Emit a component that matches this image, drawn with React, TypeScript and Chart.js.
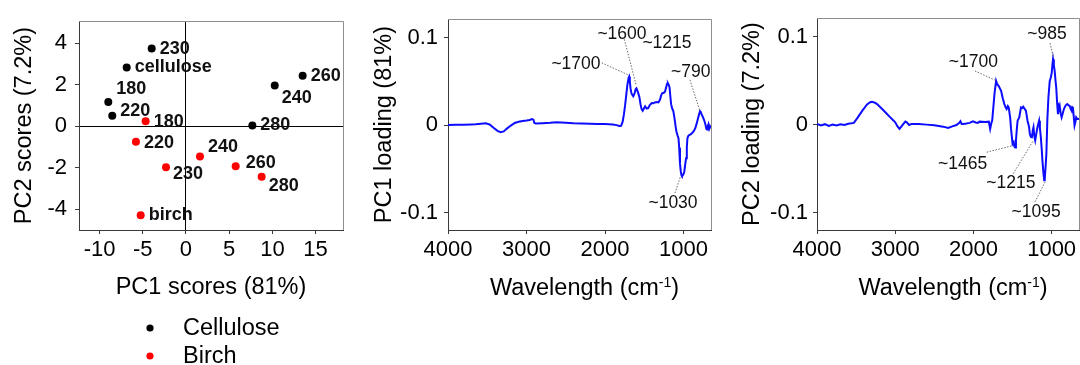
import React, { useEffect, useRef } from 'react';
import { Chart, registerables } from 'chart.js';

Chart.register(...registerables);

const FONT = "'Liberation Sans', Arial, Helvetica, sans-serif";
Chart.defaults.font.family = FONT;

// ---------------- Score plot data ----------------
const seriesNames = ['Cellulose', 'Birch'];
const celluloseLabels = ['cellulose', '180', '220', '230', '240', '260', '280'];
const celluloseX = [-6.86, -8.99, -8.53, -3.97, 10.27, 13.5, 7.68];
const celluloseY = [2.82, 1.16, 0.5, 3.73, 1.95, 2.42, 0.03];
const birchLabels = ['birch', '180', '220', '230', '240', '260', '280'];
const birchX = [-5.24, -4.67, -5.79, -2.31, 1.62, 5.75, 8.76];
const birchY = [-4.29, 0.24, -0.75, -1.98, -1.46, -1.93, -2.44];

const scoreXTicks = [-10, -5, 0, 5, 10, 15];
const scoreYTicks = [-4, -2, 0, 2, 4];

// ---------------- Loading data ----------------
const pc1Wavenumber = [
  4000, 3900, 3800, 3700, 3650, 3580, 3520, 3470, 3420, 3370, 3330, 3290, 3250, 3200, 3150, 3100, 3050, 3000,
  2960, 2930, 2912, 2900, 2880, 2800, 2700, 2617, 2500, 2400, 2300, 2192, 2100, 2000, 1900, 1851, 1820, 1795,
  1775, 1760, 1745, 1730, 1715, 1700, 1693, 1684, 1675, 1665, 1655, 1640, 1625, 1610, 1600, 1590, 1575, 1562,
  1548, 1535, 1520, 1505, 1489, 1470, 1450, 1430, 1404, 1385, 1365, 1340, 1320, 1300, 1285, 1270, 1250, 1235,
  1222, 1210, 1200, 1188, 1178, 1168, 1158, 1145, 1130, 1115, 1100, 1090, 1075, 1064, 1055, 1045, 1035, 1027,
  1020, 1010, 1000, 990, 980, 968, 958, 950, 940, 928, 910, 890, 870, 850, 832, 815, 800, 790, 780, 765, 750,
  735, 720, 708, 700, 690, 682, 672, 662, 650,
];
const pc1Loading = [
  0, 0.0003, 0.0005, 0.0008, 0.001, 0.0015, 0.002, 0.0008, -0.003, -0.0065, -0.008, -0.0072, -0.004, -0.0005,
  0.0025, 0.0038, 0.0048, 0.0052, 0.0058, 0.0068, 0.0062, 0.0025, 0.0018, 0.0022, 0.0026, 0.0033, 0.0028, 0.0022,
  0.0018, 0.0015, 0.0013, 0.0012, 0.0006, 0.0, -0.001, -0.0008, 0.004, 0.012, 0.022, 0.034, 0.046, 0.054, 0.0555,
  0.05, 0.042, 0.037, 0.035, 0.033, 0.036, 0.041, 0.042, 0.04, 0.036, 0.032, 0.024, 0.0185, 0.0165, 0.019, 0.0215,
  0.019, 0.0195, 0.023, 0.0253, 0.025, 0.026, 0.0265, 0.026, 0.029, 0.034, 0.0366, 0.037, 0.0385, 0.043, 0.047,
  0.048, 0.046, 0.043, 0.033, 0.024, 0.019, 0.016, 0.008, -0.002, -0.0075, -0.012, -0.015, -0.026, -0.044, -0.053,
  -0.057, -0.058, -0.0575, -0.056, -0.053, -0.046, -0.038, -0.025, -0.015, -0.0125, -0.0113, -0.0105, -0.009,
  -0.007, -0.0035, 0.002, 0.008, 0.013, 0.016, 0.0145, 0.0115, 0.0085, 0.005, 0.0005, -0.0045, -0.005, -0.001,
  0.001, -0.004, -0.0015, -0.0035,
];

const pc2Wavenumber = [
  4000, 3950, 3900, 3850, 3800, 3750, 3700, 3650, 3600, 3529, 3480, 3420, 3360, 3320, 3296, 3260, 3232, 3180,
  3120, 3063, 3020, 3000, 2970, 2945, 2920, 2895, 2870, 2852, 2822, 2790, 2700, 2600, 2500, 2387, 2324, 2270,
  2217, 2180, 2166, 2150, 2133, 2090, 2048, 2006, 1970, 1943, 1921, 1850, 1803, 1786, 1770, 1760, 1745, 1731,
  1710, 1695, 1676, 1660, 1646, 1625, 1604, 1590, 1575, 1560, 1549, 1530, 1519, 1499, 1485, 1477, 1465, 1456,
  1445, 1435, 1414, 1392, 1375, 1363, 1345, 1329, 1308, 1290, 1278, 1265, 1252, 1240, 1232, 1220, 1210, 1195,
  1181, 1160, 1150, 1138, 1125, 1118, 1105, 1095, 1088, 1075, 1067, 1055, 1041, 1024, 1010, 999, 990, 982, 972,
  961, 950, 941, 930, 919, 908, 897, 885, 872, 860, 843, 820, 801, 785, 770, 757, 745, 737, 728, 718, 707, 696,
  686, 670, 650,
];
const pc2Loading = [
  0.0008, -0.001, 0.0005, -0.0015, 0.0, -0.001, 0.0005, -0.0005, 0.001, 0.002, 0.008, 0.016, 0.023, 0.0255,
  0.026, 0.025, 0.0234, 0.019, 0.0135, 0.0083, 0.0045, 0.0026, -0.002, -0.0049, -0.002, 0.0008, 0.0035, 0.0026,
  -0.0004, 0.0008, 0.0008, 0.0, -0.0008, -0.0023, -0.0038, -0.002, -0.0004, 0.002, 0.0038, 0.0008, 0.0008, 0.0012,
  0.002, 0.0038, 0.0025, 0.002, 0.0034, 0.003, 0.0034, -0.0049, 0.002, 0.0045, 0.02, 0.0348, 0.0498, 0.046, 0.044,
  0.041, 0.0385, 0.03, 0.0234, 0.02, 0.0178, 0.021, 0.0196, 0.008, -0.0049, -0.0219, -0.02, -0.0249, -0.026,
  -0.018, -0.005, 0.0045, 0.0083, 0.0196, 0.019, 0.0204, 0.018, 0.0159, 0.0045, -0.002, -0.0106, -0.014, -0.0144,
  -0.006, -0.003, -0.014, -0.018, -0.01, -0.003, 0.0045, -0.004, -0.0144, -0.03, -0.0408, -0.055, -0.0634, -0.062,
  -0.045, -0.033, 0.005, 0.031, 0.0498, 0.054, 0.059, 0.068, 0.0744, 0.068, 0.061, 0.05, 0.042, 0.025, 0.012,
  0.018, 0.0215, 0.013, 0.0083, 0.012, 0.0178, 0.022, 0.0234, 0.022, 0.0215, 0.018, 0.0159, 0.02, 0.0196, 0.01,
  -0.001, 0.003, 0.0083, 0.0064, 0.0064,
];

const wavenumberTicks = [4000, 3000, 2000, 1000];
const loadingTicks = [-0.1, 0, 0.1];

// Peak annotations, in data coordinates (wavenumber, loading)
type Annot = { text: string; at: [number, number]; from?: [number, number]; to?: [number, number] };
const pc1Annotations: Annot[] = [
  { text: '~1700', at: [2370, 0.0694], from: [2042, 0.0713], to: [1703, 0.0574] },
  { text: '~1600', at: [1784, 0.1045], from: [1754, 0.0982], to: [1605, 0.0461] },
  { text: '~1215', at: [1211, 0.0932] },
  { text: '~790', at: [909, 0.0604], from: [918, 0.0518], to: [790, 0.0159] },
  { text: '~1030', at: [1134, -0.0898], from: [1109, -0.0778], to: [1036, -0.0578] },
];
const pc2Annotations: Annot[] = [
  { text: '~985', at: [1059, 0.1027], from: [1020, 0.0929], to: [976, 0.0759] },
  { text: '~1700', at: [2001, 0.0713], from: [1980, 0.0611], to: [1702, 0.0498] },
  { text: '~1465', at: [2139, -0.0445], from: [1830, -0.0314], to: [1490, -0.0238] },
  { text: '~1215', at: [1522, -0.0665], from: [1490, -0.0558], to: [1234, -0.0181] },
  { text: '~1095', at: [1199, -0.0993], from: [1212, -0.088], to: [1084, -0.0653] },
];

// ---------------- Styles ----------------
const AXIS_DARK = '#3a3a3a';
const BOX_GRAY = '#8e8e8e';
const CURVE_BLUE = 'rgb(12,12,255)';
const TICK_FONT = { size: 22, lineHeight: 1.2 };
const TITLE_FONT = { size: 23.5, lineHeight: 1 };
// pixel offsets of the score-plot point labels (label left/middle relative to point)
const celluloseLabelOffsets = [[8, 0], [8, -13], [8, -5], [8, 0], [7, 12], [8, 0], [8, 0]];
const birchLabelOffsets = [[8, 0], [8, 1], [8, 1], [7, 7], [8, -9], [10, -3], [7, 9]];

const boxPlugin = {
  id: 'boxTopRight',
  beforeDatasetsDraw(chart: any) {
    const { ctx, chartArea: a } = chart;
    ctx.save();
    ctx.strokeStyle = BOX_GRAY;
    ctx.lineWidth = 1;
    ctx.beginPath();
    ctx.moveTo(Math.round(a.left), Math.round(a.top) + 0.5);
    ctx.lineTo(Math.round(a.right) + 0.5, Math.round(a.top) + 0.5);
    ctx.lineTo(Math.round(a.right) + 0.5, Math.round(a.bottom));
    ctx.stroke();
    ctx.restore();
  },
};

const fixedTicks = (values: number[]) => (scale: any) => {
  scale.ticks = values.map((v) => ({ value: v }));
};

// ---------------- Score chart ----------------
function scoreConfig(): any {
  const labelSets = [celluloseLabels, birchLabels];
  const offsetSets = [celluloseLabelOffsets, birchLabelOffsets];
  const colors = ['#000000', '#ff0000'];

  const pointLabelPlugin = {
    id: 'pointLabels',
    afterDatasetsDraw(chart: any) {
      const { ctx } = chart;
      ctx.save();
      ctx.font = `bold 18px ${FONT}`;
      ctx.fillStyle = '#111';
      ctx.textAlign = 'left';
      ctx.textBaseline = 'middle';
      chart.data.datasets.forEach((_: any, di: number) => {
        const meta = chart.getDatasetMeta(di);
        meta.data.forEach((pt: any, i: number) => {
          const [dx, dy] = offsetSets[di][i];
          ctx.fillText(labelSets[di][i], pt.x + dx, pt.y + dy);
        });
      });
      ctx.restore();
    },
  };

  const legendPlugin = {
    id: 'verticalLegend',
    afterDraw(chart: any) {
      const { ctx, chartArea: a } = chart;
      ctx.save();
      ctx.font = `23.5px ${FONT}`;
      ctx.textAlign = 'left';
      ctx.textBaseline = 'middle';
      chart.data.datasets.forEach((ds: any, i: number) => {
        const y = a.bottom + 98 + i * 28;
        ctx.fillStyle = ds.backgroundColor;
        ctx.beginPath();
        ctx.arc(a.left + 71, y, 3.6, 0, Math.PI * 2);
        ctx.fill();
        ctx.fillStyle = '#000';
        ctx.fillText(ds.label, a.left + 104, y + 1);
      });
      ctx.restore();
    },
  };

  return {
    type: 'scatter',
    data: {
      datasets: [
        {
          label: seriesNames[0],
          data: celluloseX.map((x, i) => ({ x, y: celluloseY[i] })),
          backgroundColor: colors[0],
          borderColor: colors[0],
          borderWidth: 0,
          pointRadius: 4,
        },
        {
          label: seriesNames[1],
          data: birchX.map((x, i) => ({ x, y: birchY[i] })),
          backgroundColor: colors[1],
          borderColor: colors[1],
          borderWidth: 0,
          pointRadius: 4,
        },
      ],
    },
    options: {
      responsive: false,
      animation: false,
      events: [],
      layout: { padding: { left: 0, top: 17, right: 17, bottom: 0 } },
      plugins: { legend: { display: false }, tooltip: { enabled: false } },
      scales: {
        x: {
          type: 'linear',
          min: -12.38,
          max: 18.17,
          afterBuildTicks: fixedTicks(scoreXTicks),
          afterFit: (s: any) => {
            s.height = 135;
          },
          ticks: { font: TICK_FONT, color: '#000', padding: 3, autoSkip: false, maxRotation: 0, callback: (v: any) => String(v) },
          grid: {
            drawOnChartArea: true,
            color: (c: any) => (c.tick && c.tick.value === 0 ? '#000' : 'rgba(0,0,0,0)'),
            tickColor: AXIS_DARK,
            tickLength: 4,
            lineWidth: 1,
          },
          border: { color: AXIS_DARK, width: 1 },
          title: { display: true, text: 'PC1 scores (81%)', color: '#000', font: TITLE_FONT, padding: { top: 0, bottom: 66 } },
        },
        y: {
          type: 'linear',
          min: -5.0,
          max: 5.05,
          afterBuildTicks: fixedTicks(scoreYTicks),
          afterFit: (s: any) => {
            s.width = 79;
          },
          ticks: { font: TICK_FONT, color: '#000', padding: 8, autoSkip: false, callback: (v: any) => String(v) },
          grid: {
            drawOnChartArea: true,
            color: (c: any) => (c.tick && c.tick.value === 0 ? '#000' : 'rgba(0,0,0,0)'),
            tickColor: AXIS_DARK,
            tickLength: 4,
            lineWidth: 1,
          },
          border: { color: AXIS_DARK, width: 1 },
          title: { display: true, text: 'PC2 scores (7.2%)', color: '#000', font: TITLE_FONT, padding: { top: 12.5, bottom: 0 } },
        },
      },
    },
    plugins: [boxPlugin, pointLabelPlugin, legendPlugin],
  };
}

// ---------------- Loading charts ----------------
type LoadingOpts = {
  wn: number[];
  val: number[];
  yTitle: string;
  axisWidth: number;
  padRight: number;
  tickPad: number;
  titlePad: number;
  annotations: Annot[];
};

function loadingConfig(o: LoadingOpts): any {
  const annotationPlugin = {
    id: 'peakAnnotations',
    afterDatasetsDraw(chart: any) {
      const { ctx } = chart;
      const xs = chart.scales.x;
      const ys = chart.scales.y;
      ctx.save();
      ctx.strokeStyle = '#5a5a5a';
      ctx.lineWidth = 0.9;
      ctx.setLineDash([1.5, 1.5]);
      o.annotations.forEach((an) => {
        if (an.from && an.to) {
          ctx.beginPath();
          ctx.moveTo(xs.getPixelForValue(an.from[0]), ys.getPixelForValue(an.from[1]));
          ctx.lineTo(xs.getPixelForValue(an.to[0]), ys.getPixelForValue(an.to[1]));
          ctx.stroke();
        }
      });
      ctx.setLineDash([]);
      ctx.font = `17.5px ${FONT}`;
      ctx.fillStyle = '#111';
      ctx.textAlign = 'center';
      ctx.textBaseline = 'middle';
      o.annotations.forEach((an) => {
        ctx.fillText(an.text, xs.getPixelForValue(an.at[0]), ys.getPixelForValue(an.at[1]));
      });
      ctx.restore();
    },
  };

  const xTitlePlugin = {
    id: 'wavenumberTitle',
    afterDraw(chart: any) {
      const { ctx, chartArea: a } = chart;
      const main = 'Wavelength (cm';
      const sup = '-1';
      const close = ')';
      ctx.save();
      ctx.fillStyle = '#000';
      ctx.textAlign = 'left';
      ctx.textBaseline = 'alphabetic';
      ctx.font = `23.5px ${FONT}`;
      const w1 = ctx.measureText(main).width;
      const w3 = ctx.measureText(close).width;
      ctx.font = `14px ${FONT}`;
      const w2 = ctx.measureText(sup).width;
      const total = w1 + w2 + w3;
      let x = (a.left + a.right) / 2 + 5 - total / 2;
      const y = a.bottom + 65;
      ctx.font = `23.5px ${FONT}`;
      ctx.fillText(main, x, y);
      x += w1;
      ctx.font = `14px ${FONT}`;
      ctx.fillText(sup, x, y - 8);
      x += w2;
      ctx.font = `23.5px ${FONT}`;
      ctx.fillText(close, x, y);
      ctx.restore();
    },
  };

  return {
    type: 'line',
    data: {
      datasets: [
        {
          data: o.wn.map((w, i) => ({ x: w, y: o.val[i] })),
          borderColor: CURVE_BLUE,
          borderWidth: 2,
          pointRadius: 0,
          fill: false,
          tension: 0,
        },
      ],
    },
    options: {
      responsive: false,
      animation: false,
      events: [],
      layout: { padding: { left: 0, top: 17, right: o.padRight, bottom: 0 } },
      plugins: { legend: { display: false }, tooltip: { enabled: false } },
      scales: {
        x: {
          type: 'linear',
          reverse: true,
          min: 650,
          max: 4000,
          afterBuildTicks: fixedTicks(wavenumberTicks),
          afterFit: (s: any) => {
            s.height = 135;
          },
          ticks: { font: TICK_FONT, color: '#000', padding: 3, autoSkip: false, maxRotation: 0, callback: (v: any) => String(v) },
          grid: { drawOnChartArea: false, tickColor: AXIS_DARK, tickLength: 4 },
          border: { color: AXIS_DARK, width: 1 },
          title: { display: false },
        },
        y: {
          type: 'linear',
          min: -0.12,
          max: 0.1212,
          afterBuildTicks: fixedTicks(loadingTicks),
          afterFit: (s: any) => {
            s.width = o.axisWidth;
          },
          ticks: { font: TICK_FONT, color: '#000', padding: o.tickPad, autoSkip: false, callback: (v: any) => String(v) },
          grid: { drawOnChartArea: false, tickColor: AXIS_DARK, tickLength: 4 },
          border: { color: AXIS_DARK, width: 1 },
          title: { display: true, text: o.yTitle, color: '#000', font: TITLE_FONT, padding: { top: o.titlePad, bottom: 0 } },
        },
      },
    },
    plugins: [boxPlugin, annotationPlugin, xTitlePlugin],
  };
}

const pc1Config = () =>
  loadingConfig({
    wn: pc1Wavenumber,
    val: pc1Loading,
    yTitle: 'PC1 loading (81%)',
    axisWidth: 88,
    padRight: 9,
    tickPad: 6,
    titlePad: 12.3,
    annotations: pc1Annotations,
  });

const pc2Config = () =>
  loadingConfig({
    wn: pc2Wavenumber,
    val: pc2Loading,
    yTitle: 'PC2 loading (7.2%)',
    axisWidth: 97,
    padRight: 1,
    tickPad: 5,
    titlePad: 21,
    annotations: pc2Annotations,
  });

function ChartPanel({ makeConfig, left }: { makeConfig: () => any; left: number }) {
  const ref = useRef<HTMLCanvasElement | null>(null);
  useEffect(() => {
    if (!ref.current) return;
    const chart = new Chart(ref.current, makeConfig());
    return () => chart.destroy();
  }, [makeConfig]);
  return (
    <canvas
      ref={ref}
      width={360}
      height={365}
      style={{ position: 'absolute', left, top: 0, width: 360, height: 365 }}
    />
  );
}

export default function App() {
  return (
    <div
      style={{
        position: 'fixed',
        left: 0,
        top: 0,
        width: 1080,
        height: 365,
        background: '#ffffff',
        overflow: 'hidden',
      }}
    >
      <ChartPanel makeConfig={scoreConfig} left={0} />
      <ChartPanel makeConfig={pc1Config} left={360} />
      <ChartPanel makeConfig={pc2Config} left={720} />
    </div>
  );
}
